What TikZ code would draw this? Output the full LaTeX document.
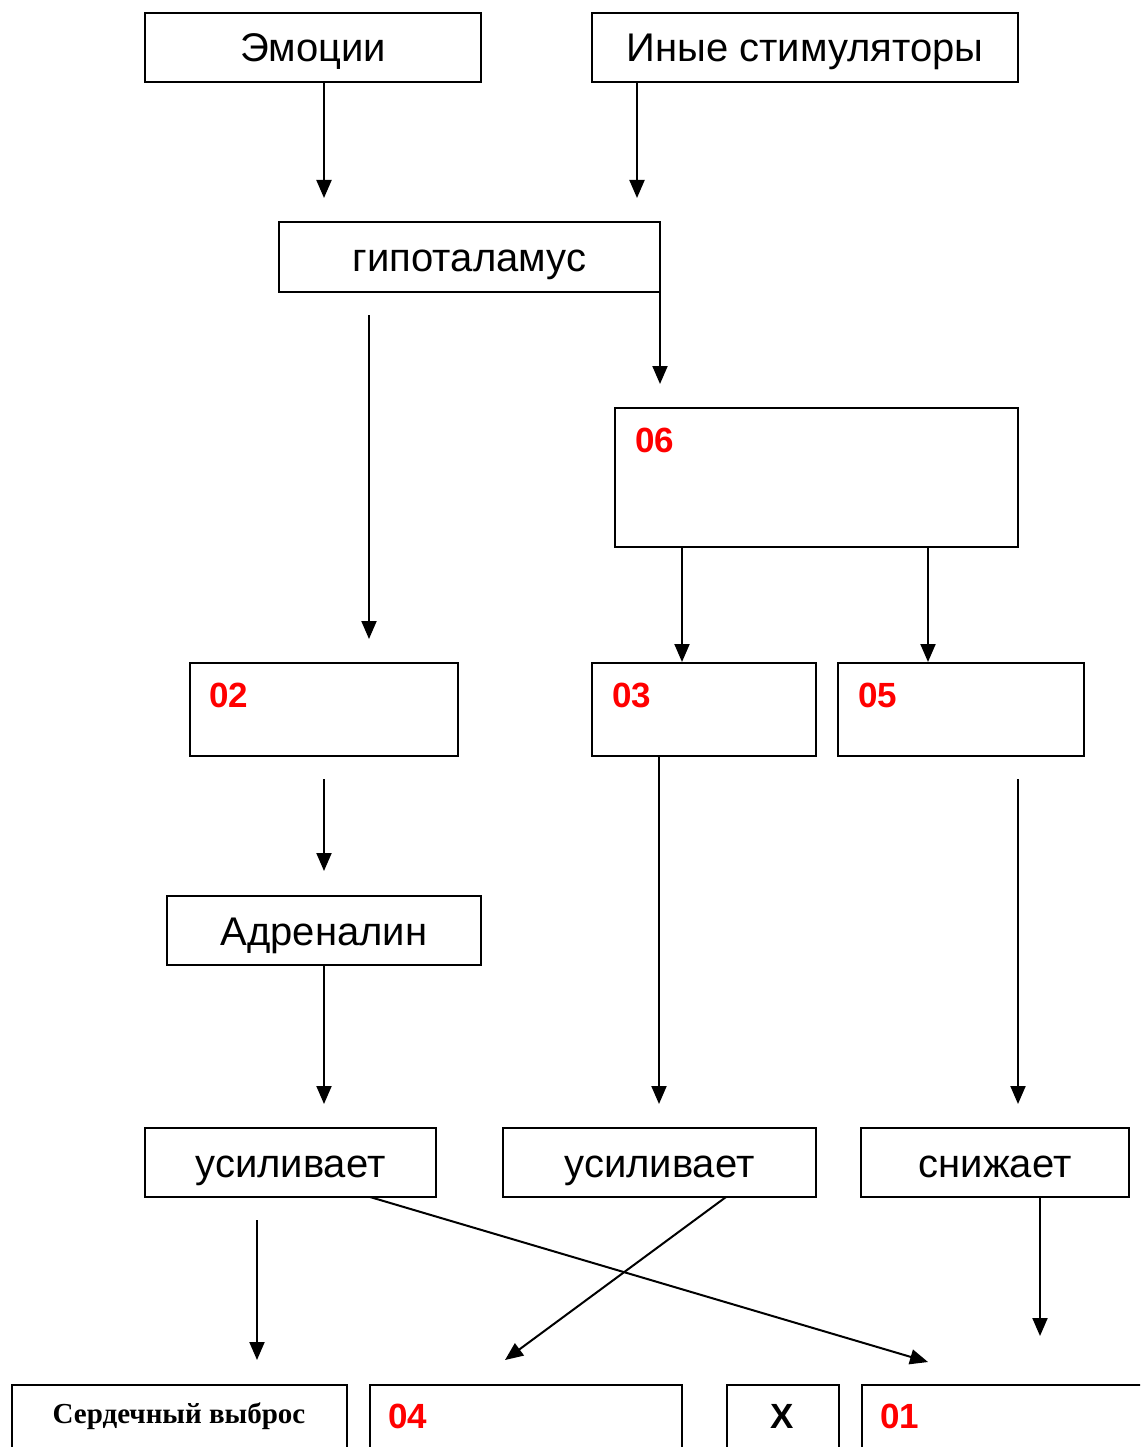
\documentclass[tikz,border=0pt]{standalone}
\usepackage{fontspec}
\setmainfont{Liberation Sans}
\newfontfamily\serifbold{Liberation Serif}
\usetikzlibrary{arrows.meta}
\begin{document}
\begin{tikzpicture}[x=1pt,y=-1pt,
  box/.style={draw,line width=2pt,rectangle,inner sep=0pt,text height=29pt,text depth=0pt,font=\fontsize{40}{46}\selectfont},
  tag/.style={anchor=base west,text=red,font=\fontsize{35}{40}\selectfont\bfseries,inner sep=0pt},
  arr/.style={line width=2pt,-{Triangle[length=18pt,width=15pt]}}]
\clip (0,0) rectangle (1140,1447);
\useasboundingbox (0,0) rectangle (1140,1447);

% top row
\node[box,minimum width=336pt,minimum height=69pt] (emo) at (313,47.5) {Эмоции};
\node[box,minimum width=426pt,minimum height=69pt] (oth) at (805,47.5) {Иные стимуляторы};
\node[box,minimum width=381pt,minimum height=70pt] (hyp) at (469.5,257) {гипоталамус};

% middle boxes
\node[box,minimum width=403pt,minimum height=139pt] (b06) at (816.5,477.5) {};
\node[tag] (t06) at (635,452) {06};
\node[box,minimum width=268pt,minimum height=93pt] (b02) at (324,709.5) {};
\node[tag] (t02) at (209,707) {02};
\node[box,minimum width=224pt,minimum height=93pt] (b03) at (704,709.5) {};
\node[tag] (t03) at (612,707) {03};
\node[box,minimum width=246pt,minimum height=93pt] (b05) at (961,709.5) {};
\node[tag] (t05) at (858,707) {05};

\node[box,minimum width=314pt,minimum height=69pt] (adr) at (324,930.5) {Адреналин};

% effect row
\node[box,minimum width=291pt,minimum height=69pt] (up1) at (290.5,1162.5) {усиливает};
\node[box,minimum width=313pt,minimum height=69pt] (up2) at (659.5,1162.5) {усиливает};
\node[box,minimum width=268pt,minimum height=69pt] (down) at (995,1162.5) {снижает};

% bottom row (runs past the lower edge)
\node[box,minimum width=335pt,minimum height=110pt,anchor=north west] (co) at (11,1384) {};
\node[font=\serifbold\fontsize{29}{34}\selectfont\bfseries,anchor=base,inner sep=0pt] (cot) at (179,1423) {Сердечный выброс};
\node[box,minimum width=312pt,minimum height=110pt,anchor=north west] (b04) at (369,1384) {};
\node[tag] (t04) at (388,1428) {04};
\node[box,minimum width=112pt,minimum height=110pt,anchor=north west] (bx) at (726,1384) {};
\node[font=\fontsize{35}{40}\selectfont\bfseries,anchor=base,inner sep=0pt] (tx) at (782,1428) {Х};
\node[box,minimum width=320pt,minimum height=110pt,anchor=north west] (b01) at (861,1384) {};
\node[tag] (t01) at (880,1428) {01};

% free arrow ends and fixed arrow columns
\coordinate (e1) at (324,198);
\coordinate (e2) at (637,198);
\coordinate (e3) at (660,384);
\coordinate (s4) at (369,315);
\coordinate (e4) at (369,639);
\coordinate (c03) at (682,600);
\coordinate (c05) at (928,600);
\coordinate (s5) at (324,779);
\coordinate (e5) at (324,871);
\coordinate (e6) at (324,1104);
\coordinate (e7) at (659,1104);
\coordinate (s8) at (1018,779);
\coordinate (e8) at (1018,1104);
\coordinate (s9) at (257,1220);
\coordinate (e9) at (257,1360);
\coordinate (s10) at (726,1197);
\coordinate (e10) at (505,1360);
\coordinate (s11) at (370,1197);
\coordinate (e11) at (928,1362);
\coordinate (s12) at (1040,1197);
\coordinate (e12) at (1040,1336);

% connectors
\draw[arr] (emo.south -| e1) -- (e1);
\draw[arr] (oth.south -| e2) -- (e2);
\draw[arr] (hyp.south east -| e3) -- (e3);
\draw[arr] (s4) -- (e4);
\draw[arr] (b06.south -| c03) -- (b03.north -| c03);
\draw[arr] (b06.south -| c05) -- (b05.north -| c05);
\draw[arr] (s5) -- (e5);
\draw[arr] (adr.south) -- (e6);
\draw[arr] (b03.south -| e7) -- (e7);
\draw[arr] (s8) -- (e8);
\draw[arr] (s9) -- (e9);
\draw[arr] (s10) -- (e10);
\draw[arr] (s11) -- (e11);
\draw[arr] (s12) -- (e12);
\end{tikzpicture}
\end{document}
